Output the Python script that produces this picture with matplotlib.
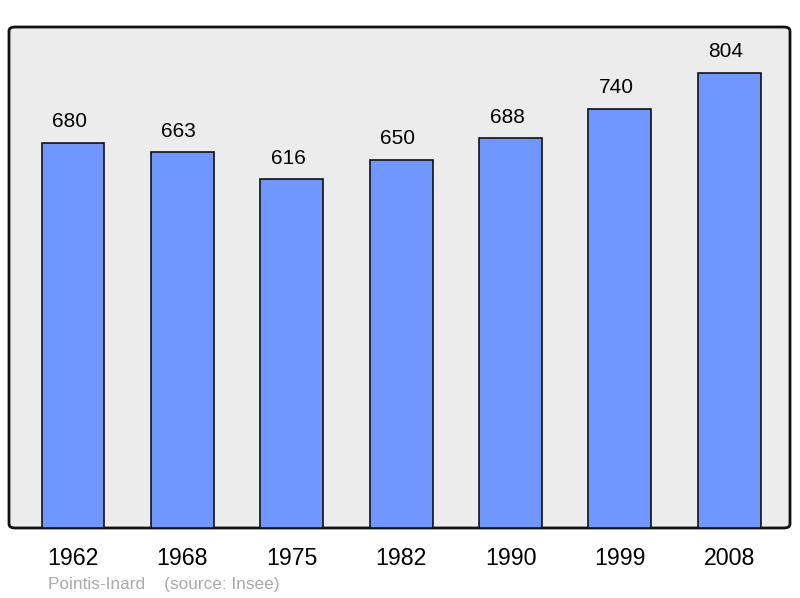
import matplotlib.pyplot as plt
from matplotlib.patches import FancyBboxPatch

# 数据
years = ['1962', '1968', '1975', '1982', '1990', '1999', '2008']
population = [680, 663, 616, 650, 688, 740, 804]

plt.rcParams['font.family'] = ['Liberation Sans', 'DejaVu Sans']

fig = plt.figure(figsize=(8, 5.98), dpi=100)
ax = fig.add_axes([9 / 800, 1 - 528 / 598, 781 / 800, 501 / 598])
ax.set_facecolor('none')

# 圆角背景框
bg = FancyBboxPatch((0, 0), 1, 1, boxstyle='round,pad=0,rounding_size=0.008',
                    transform=ax.transAxes, facecolor='#ececec', edgecolor='#111111',
                    linewidth=2, zorder=0, clip_on=False)
ax.add_patch(bg)

x = list(range(len(years)))
ax.bar(x, population, width=0.575, color='#7096ff', edgecolor='#111111', linewidth=1.2, zorder=2)

for xi, v in zip(x, population):
    ax.annotate(str(v), (xi, v), xytext=(-2.5, 15), textcoords='offset points',
                ha='center', va='center', fontsize=15)

ax.set_xlim(-0.585, 6.555)
ax.set_ylim(0, max(population) * 1.1)
ax.set_yticks([])
ax.set_xticks(x)
ax.set_xticklabels(years, fontsize=16.7)
ax.tick_params(axis='x', length=0, pad=14)
for s in ax.spines.values():
    s.set_visible(False)

fig.text(48 / 800, 1 - 585 / 598, 'Pointis-Inard    (source: Insee)', fontsize=12.4,
         color='#aaaaaa', ha='left', va='center')

fig.savefig('out.png', dpi=100)
